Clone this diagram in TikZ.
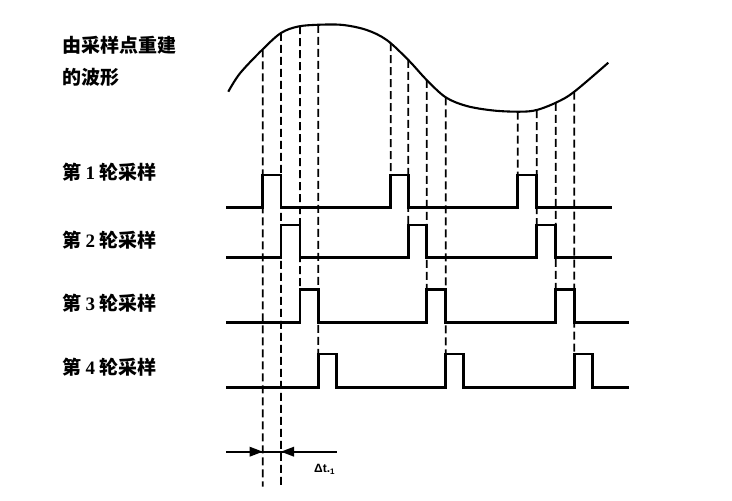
\documentclass[tikz,border=0pt]{standalone}
\usepackage{fontspec}
\setmainfont{Liberation Serif}
\newfontfamily\cjk{Noto Sans CJK SC}
\newfontfamily\lsans{Liberation Sans}
\usetikzlibrary{intersections}
\begin{document}
\begin{tikzpicture}[x=1pt,y=-1pt,
  sig/.style={line width=2.5pt,line join=miter},
  wavestyle/.style={line width=2.1pt},
  dashline/.style={line width=1.8pt,dash pattern=on 8pt off 4pt},
  lbl/.style={anchor=west,inner sep=0pt,font=\cjk\bfseries\fontsize{19}{22}\selectfont},
  dim/.style={line width=1.8pt}]
\useasboundingbox (0,0) rectangle (732,501);
% labels
\node[lbl] (t1) at (62,45) {由采样点重建};
\node[lbl] (t2) at (62,77) {的波形};
\node[lbl] (r1) at (62,172) {第 {\rmfamily\bfseries 1} 轮采样};
\node[lbl] (r2) at (62,240) {第 {\rmfamily\bfseries 2} 轮采样};
\node[lbl] (r3) at (62,303) {第 {\rmfamily\bfseries 3} 轮采样};
\node[lbl] (r4) at (62,367) {第 {\rmfamily\bfseries 4} 轮采样};
% reconstructed waveform
\draw[wavestyle,name path=wave] plot[smooth,tension=0.55] coordinates {
 (228.3,91.7) (240,73.3) (262.7,49.3) (281,33) (298.3,26.5) (320,24.7) (343.3,25)
 (366.7,30) (386.7,40) (408.3,60) (426.7,80) (445.7,97.3) (466.7,106) (493.3,110.5)
 (520,111.7) (536.7,110) (556.7,102.3) (574.3,91.7) (608.3,62.7)};
% dashed sampling lines
\foreach \x/\yb [count=\i] in {262.7/486.7,281/486.7,300/289.3,318.3/354,
   390.7/175,408.3/225,426.7/289.3,445.7/354,
   517.7/175,536.7/225,555.7/289.3,574.3/354} {
  \path[name path=v\i] (\x,0) -- (\x,500);
  \path[name intersections={of=wave and v\i,by=s\i}];
  \coordinate (e\i) at (\x,\yb);
  \draw[dashline] (s\i) -- (e\i);
}
% sampling pulse rows
\draw[sig] (226,207.3) -- (262.7,207.3) -- (262.7,175) -- (281,175) -- (281,207.3)
  -- (390.7,207.3) -- (390.7,175) -- (408.3,175) -- (408.3,207.3)
  -- (517.7,207.3) -- (517.7,175) -- (536.7,175) -- (536.7,207.3) -- (611.7,207.3);
\draw[sig] (226,257.3) -- (281,257.3) -- (281,225) -- (300,225) -- (300,257.3)
  -- (408.3,257.3) -- (408.3,225) -- (426.7,225) -- (426.7,257.3)
  -- (536.7,257.3) -- (536.7,225) -- (555.7,225) -- (555.7,257.3) -- (611.7,257.3);
\draw[sig] (226,322.7) -- (300,322.7) -- (300,289.3) -- (318.3,289.3) -- (318.3,322.7)
  -- (426.7,322.7) -- (426.7,289.3) -- (445.7,289.3) -- (445.7,322.7)
  -- (555.7,322.7) -- (555.7,289.3) -- (574.3,289.3) -- (574.3,322.7) -- (629,322.7);
\draw[sig] (226,387.3) -- (318.3,387.3) -- (318.3,354) -- (336.7,354) -- (336.7,387.3)
  -- (445.7,387.3) -- (445.7,354) -- (463.7,354) -- (463.7,387.3)
  -- (574.3,387.3) -- (574.3,354) -- (592.7,354) -- (592.7,387.3) -- (629,387.3);
% delta t dimension
\coordinate (dl) at (226,451.7);
\coordinate (d1) at (262.7,451.7);
\coordinate (d2) at (281,451.7);
\coordinate (dr) at (336.7,451.7);
\draw[dim] (dl) -- (dr);
\fill (d1) -- ++(-13,-5) -- ++(0,10) -- cycle;
\fill (d2) -- ++(13,-5) -- ++(0,10) -- cycle;
\node[anchor=west,inner sep=0pt,font=\lsans\bfseries\fontsize{12}{14}\selectfont] (dt) at (314,469.5) {Δt.\textsubscript{1}};
\end{tikzpicture}
\end{document}
